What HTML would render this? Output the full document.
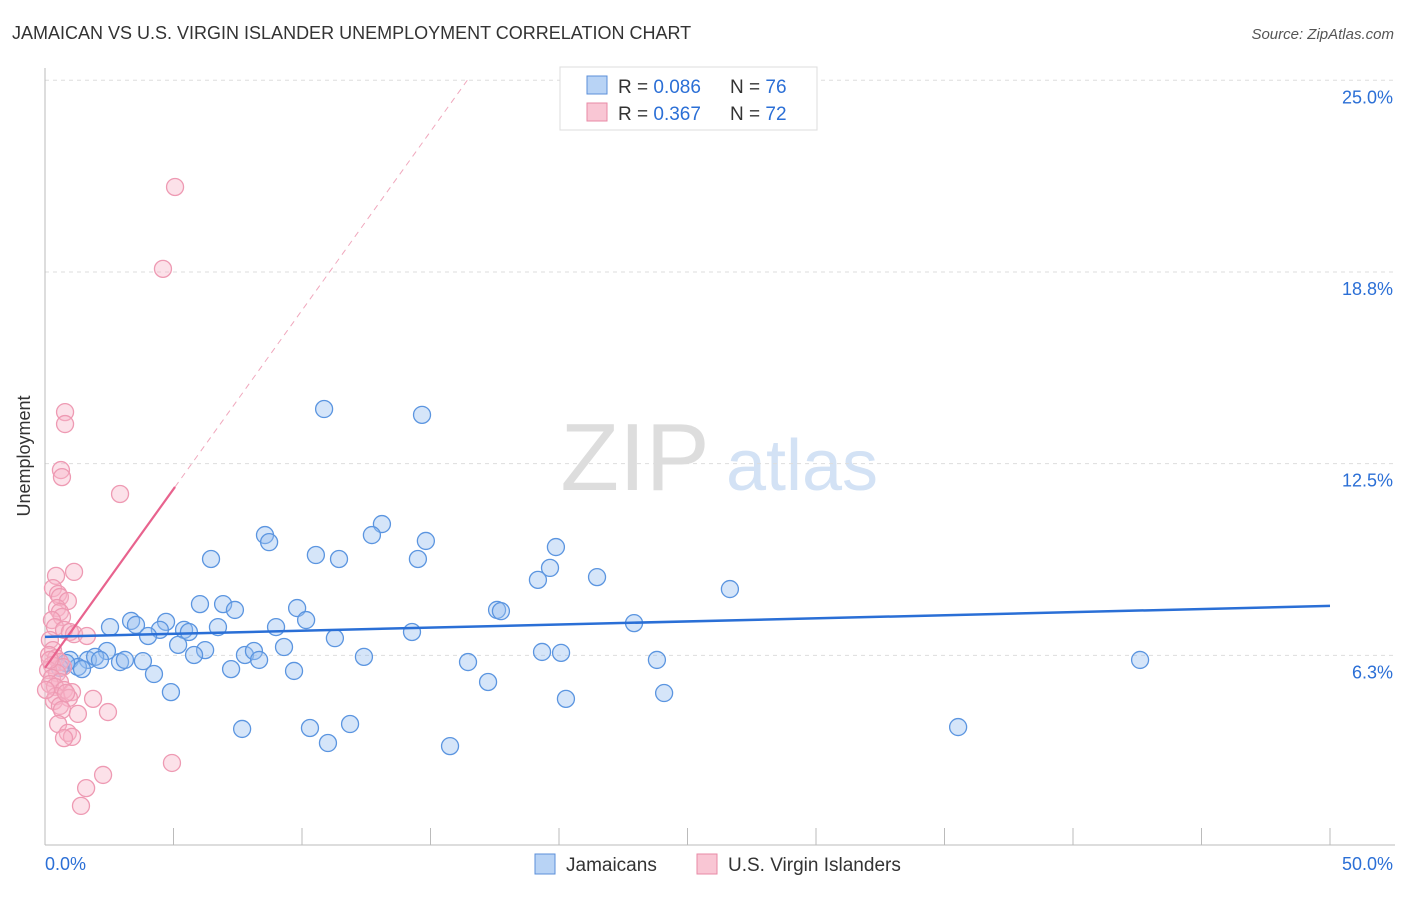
<!DOCTYPE html>
<html><head><meta charset="utf-8"><style>
body{margin:0;background:#fff;font-family:"Liberation Sans",sans-serif;}
svg text{font-family:"Liberation Sans",sans-serif;}
</style></head><body>
<svg id="chart" width="1406" height="892" xmlns="http://www.w3.org/2000/svg">
<text x="12" y="39" font-size="18" fill="#333">JAMAICAN VS U.S. VIRGIN ISLANDER UNEMPLOYMENT CORRELATION CHART</text>
<text x="1394" y="39" font-size="15" fill="#555" text-anchor="end" font-style="italic">Source: ZipAtlas.com</text>
<text x="30" y="456" font-size="18" fill="#333" text-anchor="middle" transform="rotate(-90 30 456)">Unemployment</text>
<g>
<text x="635" y="490" font-size="96" fill="#ddd" font-family="Liberation Serif" text-anchor="middle">ZIP</text>
<text x="802" y="490" font-size="72" fill="#d3e2f5" text-anchor="middle">atlas</text>
</g>
<g id="grid"></g><g id="axes"></g><g id="marks"></g>
<g>
<rect x="560" y="67" width="257" height="63" fill="#fff" stroke="#ddd"/>
<rect x="587" y="76" width="20" height="18" fill="#b8d3f5" stroke="#5b8fd9"/>
<rect x="587" y="103" width="20" height="18" fill="#f9c6d4" stroke="#e88aa6"/>
<text x="618" y="93" font-size="19" fill="#333">R = <tspan fill="#2b6fd6">0.086</tspan><tspan x="730">N = </tspan><tspan fill="#2b6fd6">76</tspan></text>
<text x="618" y="120" font-size="19" fill="#333">R = <tspan fill="#2b6fd6"> 0.367</tspan><tspan x="730">N = </tspan><tspan fill="#2b6fd6">72</tspan></text>
</g>
<g>
<rect x="535" y="854" width="20" height="20" fill="#b8d3f5" stroke="#5b8fd9"/>
<text x="566" y="871" font-size="19" fill="#333">Jamaicans</text>
<rect x="697" y="854" width="20" height="20" fill="#f9c6d4" stroke="#e88aa6"/>
<text x="728" y="871" font-size="19" fill="#333">U.S. Virgin Islanders</text>
</g>
</svg>
<script>
const yTicks=[25.0,18.75,12.5,6.25];
const yTickLabels=["25.0%","18.8%","12.5%","6.3%"];
const xTickLabels=["0.0%","50.0%"];
const blueX=[10.86,14.67,8.56,8.72,13.11,12.72,14.82,10.54,11.44,14.51,6.46,19.88,19.65,19.18,21.48,26.65,6.03,6.93,7.39,9.81,10.16,17.59,17.74,22.92,2.53,3.35,3.54,4.71,4.47,5.41,5.60,6.73,8.99,4.01,11.28,14.28,2.41,5.18,6.23,5.80,7.78,8.13,8.33,9.30,12.41,19.34,20.08,23.81,42.61,16.46,1.67,1.95,2.14,2.92,3.11,3.81,0.97,1.28,0.82,0.58,1.44,4.24,7.24,9.69,17.24,4.90,20.27,24.09,7.67,10.31,11.87,11.01,15.76,35.53];
const blueY=[14.28,14.09,10.17,9.94,10.53,10.17,9.98,9.52,9.39,9.39,9.39,9.78,9.10,8.71,8.80,8.41,7.92,7.92,7.73,7.79,7.40,7.73,7.69,7.30,7.17,7.37,7.24,7.34,7.08,7.08,7.01,7.17,7.17,6.88,6.81,7.01,6.39,6.59,6.42,6.26,6.26,6.39,6.10,6.52,6.20,6.36,6.33,6.10,6.10,6.03,6.10,6.20,6.10,6.03,6.10,6.06,6.10,5.87,6.00,5.84,5.80,5.64,5.80,5.74,5.38,5.05,4.83,5.02,3.85,3.88,4.01,3.39,3.29,3.91];
const pinkX=[5.06,4.59,0.78,0.78,0.62,0.66,2.92,1.13,0.43,0.31,0.51,0.58,0.89,0.47,0.58,0.66,0.27,0.39,0.74,0.97,1.13,1.63,0.19,0.31,0.16,0.43,0.58,0.27,0.70,0.12,0.47,0.27,0.58,0.19,0.39,0.74,1.05,0.43,0.93,1.87,0.35,0.58,0.66,1.28,2.45,0.51,0.89,1.05,0.74,4.94,2.26,1.60,1.40,0.82,0.19,0.04];
const pinkY=[21.52,18.85,14.18,13.79,12.29,12.06,11.51,8.97,8.84,8.44,8.25,8.15,8.02,7.79,7.66,7.50,7.40,7.17,7.08,7.01,6.94,6.88,6.75,6.42,6.26,6.16,6.03,5.93,5.87,5.77,5.67,5.51,5.38,5.31,5.22,5.12,5.05,4.92,4.86,4.83,4.76,4.60,4.47,4.34,4.40,4.01,3.72,3.59,3.55,2.74,2.35,1.92,1.34,5.02,6.10,5.12];
const blueTrend=[6.85,7.86];
const pinkTrend=[5.84,11.74];
const pinkTrendEndX=5.06;

const NS="http://www.w3.org/2000/svg";
const X=v=>45+v*25.7, Y=v=>847-v*30.67;
function mk(tag,attrs,parent){const e=document.createElementNS(NS,tag);for(const k in attrs)e.setAttribute(k,attrs[k]);document.getElementById(parent).appendChild(e);return e;}
yTicks.forEach((t,i)=>{
 const l=mk('line',{x1:45,x2:1395,y1:Y(t),y2:Y(t),stroke:'#ddd','stroke-dasharray':'4,4'},'grid');
 
 
 const tx=mk('text',{x:1393,y:Y(t)+23,'font-size':18,fill:'#2b6fd6','text-anchor':'end'},'grid');
 tx.textContent=yTickLabels[i];
 
 
});
const ax=mk('line',{x1:45,x2:45,y1:68,y2:845,stroke:'#bbb'},'axes');


const bx=mk('line',{x1:45,x2:1395,y1:845,y2:845,stroke:'#bbb'},'axes');


for(let i=1;i<=10;i++){
 const t=mk('line',{x1:X(i*5),x2:X(i*5),y1:828,y2:845,stroke:'#bbb'},'axes');
 
 
}
[[0,'start',45],[50,'end',1393]].forEach((d,i)=>{
 const t=mk('text',{x:d[2],y:870,'font-size':18,fill:'#2b6fd6','text-anchor':d[1]},'axes');
 t.textContent=xTickLabels[i];
 
 
});
blueX.forEach((x,i)=>{
 const c=mk('circle',{cx:X(x),cy:Y(blueY[i]),r:8.5,fill:'rgba(150,190,240,0.4)',stroke:'#5b95e0','stroke-width':1.3},'marks');
 
 
});
pinkX.forEach((x,i)=>{
 const c=mk('circle',{cx:X(x),cy:Y(pinkY[i]),r:8.5,fill:'rgba(248,180,200,0.4)',stroke:'#ee9ab3','stroke-width':1.3},'marks');
 
 
});
const slope=(pinkTrend[1]-pinkTrend[0])/pinkTrendEndX;
const xEnd=(25-pinkTrend[0])/slope;
const pd=mk('line',{x1:X(pinkTrendEndX),y1:Y(pinkTrend[1]),x2:X(xEnd),y2:Y(25),stroke:'#f0a8bd','stroke-width':1,'stroke-dasharray':'6,5'},'marks');


const pl=mk('line',{x1:X(0),y1:Y(pinkTrend[0]),x2:X(pinkTrendEndX),y2:Y(pinkTrend[1]),stroke:'#e8638e','stroke-width':2.2},'marks');


const bl=mk('line',{x1:X(0),y1:Y(blueTrend[0]),x2:X(50),y2:Y(blueTrend[1]),stroke:'#2a6fd6','stroke-width':2.5},'marks');


</script>
</body></html>
